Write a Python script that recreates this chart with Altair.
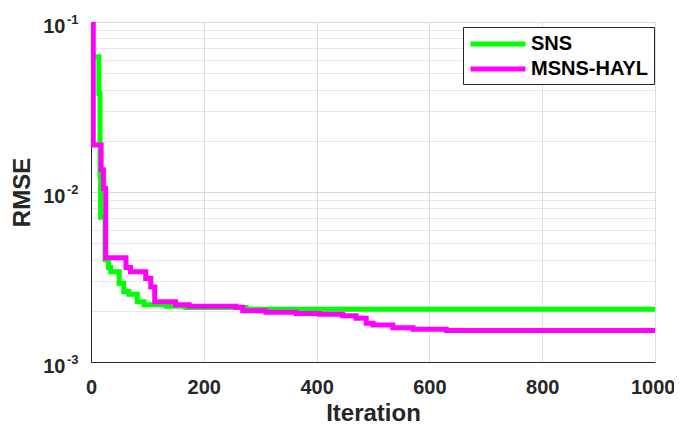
import altair as alt
import pandas as pd

# ---- data ----
sns_iter = [0, 1, 14, 16, 17, 25, 31, 35, 50, 58, 67, 82, 94, 133, 168, 275, 1000]
sns_rmse = [0.1, 0.0625, 0.038, 0.0125, 0.0071, 0.0040, 0.0036, 0.0034, 0.0029, 0.0026,
            0.0025, 0.00226, 0.00217, 0.00213, 0.00209, 0.00204, 0.00204]

mag_iter = [0, 4, 18, 22, 26, 62, 70, 97, 106, 113, 150, 174, 257, 269, 310, 364,
            405, 446, 470, 488, 500, 535, 571, 630, 1000]
mag_rmse = [0.1, 0.0189, 0.0135, 0.0105, 0.0041, 0.0036, 0.0034, 0.0031, 0.00276, 0.00226,
            0.00217, 0.00213, 0.00210, 0.00200, 0.00196, 0.00193, 0.00191, 0.00187, 0.00181,
            0.00169, 0.00165, 0.00159, 0.00156, 0.00153, 0.00153]

series_names = ["SNS", "MSNS-HAYL"]
series_colors = ["#00ff00", "#ff00ff"]

x_ticks = [0, 200, 400, 600, 800, 1000]
y_major = [0.001, 0.01, 0.1]
y_major_exp = ["-3", "-2", "-1"]
y_minor = [0.002, 0.003, 0.004, 0.005, 0.006, 0.007, 0.008, 0.009,
           0.02, 0.03, 0.04, 0.05, 0.06, 0.07, 0.08, 0.09]

df = pd.concat([
    pd.DataFrame({"Iteration": sns_iter, "RMSE": sns_rmse, "Algorithm": series_names[0], "k": 0}),
    pd.DataFrame({"Iteration": mag_iter, "RMSE": mag_rmse, "Algorithm": series_names[1], "k": 1}),
])
exp_df = pd.DataFrame({"RMSE": y_major, "exp": y_major_exp})

FONT = "Liberation Sans"
TXT = "#262626"

major_test = "abs(log(datum.value)/LN10 - round(log(datum.value)/LN10)) < 1e-6"

lines = alt.Chart(df).mark_line(
    interpolate="step-after", strokeWidth=5, clip=True, strokeCap="butt"
).encode(
    x=alt.X("Iteration:Q",
            scale=alt.Scale(domain=[0, 1000], nice=False),
            axis=alt.Axis(values=x_ticks, title="Iteration", ticks=False, format="d",
                          labelFontSize=20, labelFont=FONT, labelFontWeight="bold",
                          labelColor=TXT, labelPadding=15,
                          labelAlign={"condition": {"test": "datum.value >= 1000", "value": "right"},
                                      "value": "center"},
                          labelOffset={"condition": {"test": "datum.value >= 1000", "value": 20},
                                       "value": 0},
                          titleFontSize=24, titleFont=FONT, titleFontWeight="bold",
                          titleColor=TXT, titlePadding=4,
                          grid=True, gridColor="#dddddd", gridWidth=1,
                          domainColor=TXT, labelFlush=False)),
    y=alt.Y("RMSE:Q",
            scale=alt.Scale(type="log", domain=[0.001, 0.1], nice=False),
            axis=alt.Axis(values=y_major + y_minor, title="RMSE", ticks=False,
                          labelExpr=("abs(datum.value-0.1)<1e-9 ? '10' : "
                                     "abs(datum.value-0.01)<1e-10 ? '10' : "
                                     "abs(datum.value-0.001)<1e-11 ? '10' : ''"),
                          labelFontSize=20, labelFont=FONT, labelFontWeight="bold",
                          labelColor=TXT, labelPadding=26, labelOffset=4,
                          titleFontSize=24, titleFont=FONT, titleFontWeight="bold",
                          titleColor=TXT, titlePadding=8,
                          grid=True,
                          gridColor={"condition": {"test": major_test, "value": "#d8d8d8"},
                                     "value": "#d0d0d0"},
                          gridDash={"condition": {"test": major_test, "value": []},
                                    "value": [1, 1]},
                          domainColor=TXT, labelFlush=False)),
    color=alt.Color("Algorithm:N",
                    scale=alt.Scale(domain=series_names, range=series_colors),
                    legend=alt.Legend(title=None, orient="none", legendX=372, legendY=5,
                                      symbolType="M-3,0H3", symbolStrokeWidth=5,
                                      symbolSize=336, symbolOffset=18,
                                      labelFontSize=20, labelFont=FONT,
                                      labelFontWeight="bold", labelColor="#000000",
                                      labelOffset=21,
                                      strokeColor=TXT, fillColor="white",
                                      padding=5, rowPadding=3, labelLimit=300)),
    order=alt.Order("k:Q"),
)

exps = alt.Chart(exp_df).mark_text(
    align="left", baseline="alphabetic", dx=-24, dy=2,
    fontSize=13, font=FONT, fontWeight="bold", color=TXT
).encode(
    x=alt.datum(0),
    y=alt.Y("RMSE:Q"),
    text="exp:N",
)

chart = alt.layer(lines, exps).properties(
    width=564, height=340,
    autosize=alt.AutoSizeParams(type="none"),
    padding={"left": 83, "top": 14, "right": 19, "bottom": 62},
).configure_view(
    stroke=TXT, strokeWidth=1
).configure(background="white")

chart.save("out.html", embed_options={"renderer": "svg", "actions": False})
